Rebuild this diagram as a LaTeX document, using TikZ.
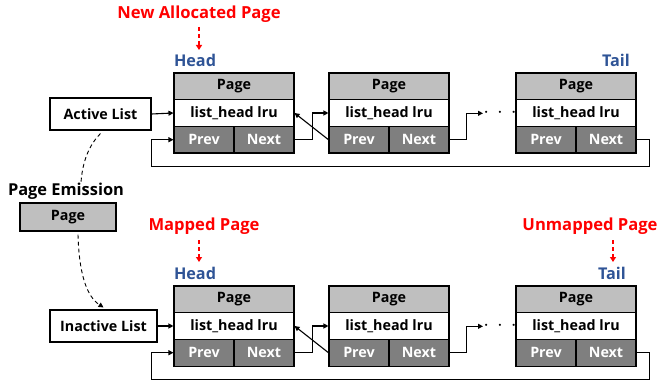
\documentclass[tikz,border=0pt]{standalone}
\usepackage{fontspec}
\setmainfont{Open Sans}
\usetikzlibrary{arrows.meta,calc}
\definecolor{pagegray}{HTML}{BFBFBF}
\definecolor{ptrgray}{HTML}{7F7F7F}
\definecolor{headblue}{HTML}{2F5496}
\definecolor{labred}{HTML}{FF0000}
\tikzset{
  cell/.style={draw=black, line width=1.1pt, minimum height=26.7pt, inner sep=0pt, font=\bfseries\fontsize{14.3}{16}\selectfont},
  pagecell/.style={cell, fill=pagegray, minimum width=120pt},
  lrucell/.style={cell, fill=white, minimum width=120pt},
  ptrcell/.style={cell, fill=ptrgray, minimum width=60pt, text=white},
  listbox/.style={draw=black, line width=1.1pt, fill=white, inner sep=0pt, font=\bfseries\fontsize{14.3}{16}\selectfont},
  link/.style={line width=1.1pt, -{Triangle[length=5pt,width=5pt]}},
  redlab/.style={text=labred, font=\bfseries\fontsize{16.6}{18}\selectfont, inner sep=0pt},
  bluelab/.style={text=headblue, font=\bfseries\fontsize{16.2}{18}\selectfont, inner sep=0pt},
  reddash/.style={draw=labred, line width=1.3pt, dash pattern=on 4pt off 3pt, -{Triangle[length=5pt,width=6pt]}},
  emitdash/.style={line width=0.9pt, dash pattern=on 4pt off 3pt},
  dots/.style={font=\bfseries\fontsize{20}{20}\selectfont, inner sep=0pt}
}
\newcommand{\pagebox}[3]{% prefix, left x, top y
  \node[pagecell] (#1page) at (#2+60, #3+13.35) {Page};
  \node[lrucell] (#1lru) at (#2+60, #3+40) {list\_head lru};
  \node[ptrcell] (#1prev) at (#2+30, #3+66.7) {Prev};
  \node[ptrcell] (#1next) at (#2+90, #3+66.7) {Next};
}
\begin{document}
\begin{tikzpicture}[x=1pt,y=-1pt]
\useasboundingbox (0,0) rectangle (659,385);
% ---------- top row ----------
\pagebox{ta}{174}{73}
\pagebox{tb}{329}{73}
\pagebox{tc}{516}{73}
\node[listbox, minimum width=101pt, minimum height=32pt] (act) at (100.5,114) {Active List};
\draw[link] (act.east) -- (talru.west);
\draw[link] (tanext.east) -- ++(18,0) |- (tblru.west);
\draw[link] (tbprev.west) -- (talru.east);
\coordinate (tdots) at (483,113.3);
\draw[link] (tbnext.east) -- ++(17,0) |- (tdots);
\node[dots] (tdt) at (500,113) {$\cdot\,\cdot\,\cdot$};
\draw[link] (tcnext.east) -- ++(13,0) |- ([xshift=-22pt,yshift=-27pt]taprev.west) -- ([xshift=-22pt]taprev.west) -- (taprev.west);
\node[redlab] (newal) at (199,14) {New Allocated Page};
\node[bluelab] (thead) at (195,60) {Head};
\node[bluelab] (ttail) at (616,60) {Tail};
\coordinate (nas) at (199,27);
\coordinate (nae) at (199,50);
\draw[reddash] (nas) -- (nae);
% ---------- bottom row ----------
\pagebox{ba}{174}{286}
\pagebox{bb}{329}{286}
\pagebox{bc}{516}{286}
\node[listbox, minimum width=107pt, minimum height=32pt] (inact) at (103.5,326) {Inactive List};
\draw[link] (inact.east) -- (balru.west);
\draw[link] (banext.east) -- ++(18,0) |- (bblru.west);
\draw[link] (bbprev.west) -- (balru.east);
\coordinate (bdots) at (483,326.3);
\draw[link] (bbnext.east) -- ++(17,0) |- (bdots);
\node[dots] (bdt) at (500,326) {$\cdot\,\cdot\,\cdot$};
\draw[link] (bcnext.east) -- ++(13,0) |- ([xshift=-22pt,yshift=-27pt]baprev.west) -- ([xshift=-22pt]baprev.west) -- (baprev.west);
\node[redlab] (mapped) at (204,226) {Mapped Page};
\node[bluelab] (bhead) at (195,273) {Head};
\node[redlab] (unmapped) at (590,226) {Unmapped Page};
\node[bluelab] (btail) at (612,273) {Tail};
\coordinate (mps) at (199,240);
\coordinate (mpe) at (199,262);
\draw[reddash] (mps) -- (mpe);
\coordinate (ups) at (613,240);
\coordinate (upe) at (613,262);
\draw[reddash] (ups) -- (upe);
% ---------- emission ----------
\node[inner sep=0pt, font=\bfseries\fontsize{16.4}{18}\selectfont] (pe) at (66,191) {Page Emission};
\node[draw=black, line width=1.1pt, fill=pagegray, minimum width=96pt, minimum height=28pt, inner sep=0pt, font=\bfseries\fontsize{14.3}{16}\selectfont] (emit) at (68,217) {Page};
\draw[emitdash] ([yshift=-3pt]act.south) .. controls (86,148) and (82,168) .. ([xshift=15pt]pe.north);
\draw[emitdash, -{Triangle[length=5pt,width=5pt]}] ([xshift=10pt,yshift=-3pt]emit.south) .. controls (79,272) and (86,296) .. ([yshift=2pt]inact.north);
\end{tikzpicture}
\end{document}
